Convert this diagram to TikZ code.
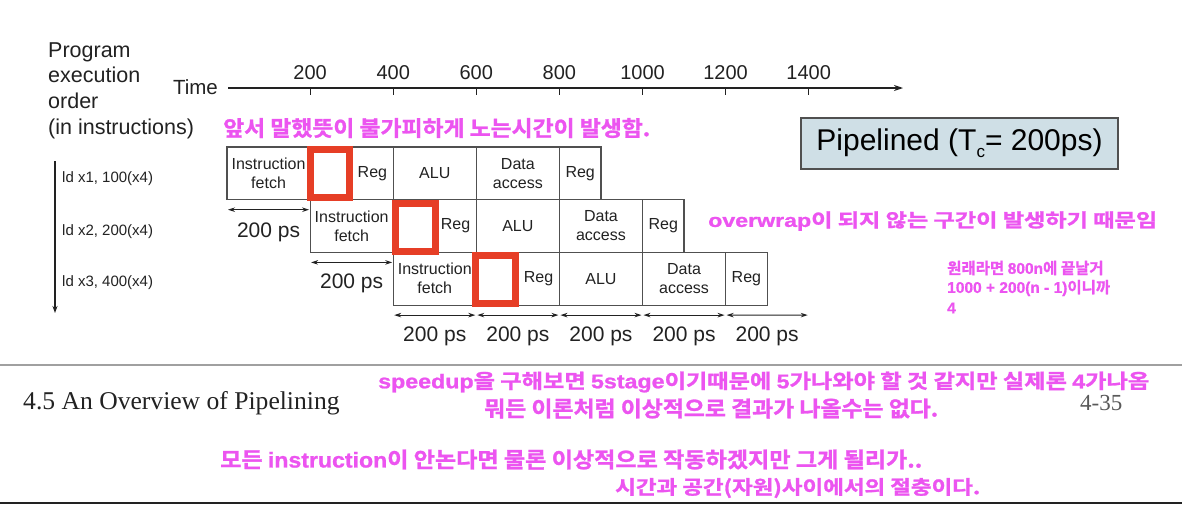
\documentclass[tikz,border=0pt]{standalone}
\usepackage{fontspec}
\usepackage{graphicx}
\setmainfont{Liberation Sans}
\newfontfamily\serfont{Liberation Serif}
\newfontfamily\korfont{Noto Sans CJK KR Bold}[FakeBold=1.2]
\newfontfamily\latb{Liberation Sans Bold}[FakeBold=1.0]
\usetikzlibrary{arrows.meta}
\definecolor{mag}{RGB}{236,84,240}
\definecolor{redb}{RGB}{230,62,38}
\definecolor{boxfill}{RGB}{207,223,230}
\definecolor{ink}{RGB}{34,34,34}
\definecolor{edge}{RGB}{80,80,80}
\definecolor{hrule}{RGB}{160,160,160}
\newcommand\hl[1]{{\latb #1}}
\tikzset{
  stage/.style={draw=edge, line width=1.2pt, fill=white, inner sep=0pt, outer sep=0pt,
    minimum height=52.7pt, anchor=north west, font=\fontsize{16}{19}\selectfont,
    text=ink, align=center},
  lbl/.style={inner sep=0pt, font=\fontsize{16}{19}\selectfont, text=ink},
  redbox/.style={draw=redb, line width=7pt, inner sep=0pt},
  dim/.style={draw=ink, line width=1.1pt,
    {Stealth[length=7pt,width=4.5pt]}-{Stealth[length=7pt,width=4.5pt]},
    shorten <=1pt, shorten >=1pt},
  pslab/.style={anchor=base, inner sep=0pt, font=\fontsize{21}{24}\selectfont, text=ink},
  axlab/.style={anchor=base, inner sep=0pt, font=\fontsize{20}{24}\selectfont, text=ink},
  lefttxt/.style={anchor=base west, inner sep=0pt, font=\fontsize{21.5}{25}\selectfont, text=ink},
  instr/.style={anchor=base west, inner sep=0pt, font=\fontsize{15}{18}\selectfont, text=ink},
  mtext/.style={anchor=west, inner sep=0pt, text=mag, font=\korfont},
  msmall/.style={anchor=west, inner sep=0pt, text=mag, font=\korfont\fontsize{15.5}{18}\selectfont},
}
\begin{document}
\begin{tikzpicture}[x=1pt, y=-1pt]
\useasboundingbox (0,0) rectangle (1182,512);
\fill[white] (0,0) rectangle (1182,512);

% left labels
\node[lefttxt] (lp1) at (48,57.3) {Program};
\node[lefttxt] (lp2) at (48,82.5) {execution};
\node[lefttxt] (lp3) at (48,108.4) {order};
\node[lefttxt] (lp4) at (48,134.4) {(in instructions)};
\node[anchor=base east, inner sep=0pt, font=\fontsize{20.5}{24}\selectfont, text=ink] (time) at (218,94.3) {Time};

% time axis
\coordinate (ax0) at (228,88);
\coordinate (ax1) at (903,88);
\draw[draw=ink, line width=1.2pt, -{Stealth[length=9pt,width=6pt]}] (ax0) -- (ax1);
\foreach \k/\lab in {1/200,2/400,3/600,4/800,5/1000,6/1200,7/1400}{
  \coordinate (tk\k) at ({227+83.1*\k},88);
  \draw[draw=ink, line width=1.2pt] (tk\k) -- ++(0,7);
  \node[axlab] (tl\k) at ({227+83.1*\k},79) {\lab};
}

% program order arrow
\coordinate (v0) at (55,161);
\coordinate (v1) at (55,313);
\draw[draw=ink, line width=1.1pt, -{Stealth[length=7pt,width=5pt]}] (v0) -- (v1);
\node[instr] (i1) at (62,182.5) {ld x1, 100(x4)};
\node[instr] (i2) at (62,235.5) {ld x2, 200(x4)};
\node[instr] (i3) at (62,286.5) {ld x3, 400(x4)};

% row 1
\node[stage, minimum width=83.1pt] (r1if) at (227,147) {Instruction\\fetch};
\node[stage, minimum width=83.1pt] (r1rd) at (310.1,147) {};
\node[stage, minimum width=83.1pt] (r1alu) at (393.2,147) {ALU};
\node[stage, minimum width=83.1pt] (r1da) at (476.3,147) {Data\\access};
\node[stage, minimum width=41.55pt] (r1wb) at (559.4,147) {Reg};
% row 2
\node[stage, minimum width=83.1pt] (r2if) at (310.1,199.7) {Instruction\\fetch};
\node[stage, minimum width=83.1pt] (r2rd) at (393.2,199.7) {};
\node[stage, minimum width=83.1pt] (r2alu) at (476.3,199.7) {ALU};
\node[stage, minimum width=83.1pt] (r2da) at (559.4,199.7) {Data\\access};
\node[stage, minimum width=41.55pt] (r2wb) at (642.5,199.7) {Reg};
% row 3
\node[stage, minimum width=83.1pt] (r3if) at (393.2,252.4) {Instruction\\fetch};
\node[stage, minimum width=83.1pt] (r3rd) at (476.3,252.4) {};
\node[stage, minimum width=83.1pt] (r3alu) at (559.4,252.4) {ALU};
\node[stage, minimum width=83.1pt] (r3da) at (642.5,252.4) {Data\\access};
\node[stage, minimum width=41.55pt] (r3wb) at (725.6,252.4) {Reg};

\node[lbl] (r1rg) at ([xshift=-20.8pt]r1rd.east) {Reg};
\node[lbl] (r2rg) at ([xshift=-20.8pt]r2rd.east) {Reg};
\node[lbl] (r3rg) at ([xshift=-20.8pt]r3rd.east) {Reg};

% red highlight boxes
\node[redbox, minimum width=39pt, minimum height=48pt] (h1) at (330,173.5) {};
\node[redbox, minimum width=40pt, minimum height=48pt] (h2) at (415.5,227.5) {};
\node[redbox, minimum width=40pt, minimum height=48pt] (h3) at (495.5,279.5) {};

% 200 ps dimension arrows
\draw[dim] ([yshift=-10pt]r1if.south west) -- ([yshift=-10pt]r1if.south east);
\node[pslab] (ps1) at ([yshift=-37.6pt]r1if.south) {200 ps};
\draw[dim] ([yshift=-10pt]r2if.south west) -- ([yshift=-10pt]r2if.south east);
\node[pslab] (ps2) at ([yshift=-36pt]r2if.south) {200 ps};
\draw[dim] ([yshift=-10pt]r3if.south west) -- ([yshift=-10pt]r3if.south east);
\draw[dim] ([yshift=-10pt]r3rd.south west) -- ([yshift=-10pt]r3rd.south east);
\draw[dim] ([yshift=-10pt]r3alu.south west) -- ([yshift=-10pt]r3alu.south east);
\draw[dim] ([yshift=-10pt]r3da.south west) -- ([yshift=-10pt]r3da.south east);
\coordinate (d3end) at (808.7,315.1);
\draw[dim] ([yshift=-10pt]r3wb.south west) -- (d3end);
\node[pslab] (ps3) at ([yshift=-36.5pt]r3if.south) {200 ps};
\node[pslab] (ps4) at ([yshift=-36.5pt]r3rd.south) {200 ps};
\node[pslab] (ps5) at ([yshift=-36.5pt]r3alu.south) {200 ps};
\node[pslab] (ps6) at ([yshift=-36.5pt]r3da.south) {200 ps};
\node[pslab] (ps7) at (767.15,341.6) {200 ps};

% pipelined box
\node[draw=edge, line width=1.3pt, fill=boxfill, inner sep=0pt, minimum width=317pt,
  minimum height=51pt, font=\fontsize{30}{34}\selectfont, text=black] (pip) at (959.5,143.5)
  {Pipelined (T\raisebox{-7pt}{\fontsize{17}{17}\selectfont c}= 200ps)};

% magenta annotations
\node[mtext] (m1) at (223,128) {\resizebox*{427pt}{20pt}{앞서 말했뜻이 불가피하게 노는시간이 발생함.}};
\node[mtext] (m2) at (708,221) {\resizebox*{449pt}{19.5pt}{\hl{overwrap}이 되지 않는 구간이 발생하기 때문임}};
\node[msmall] (m3a) at (947,268) {원래라면 \hl{800n}에 끝날거};
\node[msmall] (m3b) at (947,288) {\hl{1000 + 200(n - 1)}이니까};
\node[msmall] (m3c) at (947,308) {\hl{4}};

% rules
\coordinate (hr0) at (0,365);
\coordinate (hr1) at (1182,365);
\draw[draw=hrule, line width=2.5pt] (hr0) -- (hr1);
\coordinate (br0) at (0,503);
\coordinate (br1) at (1182,503);
\draw[draw=ink, line width=1.5pt] (br0) -- (br1);

\node[anchor=base west, inner sep=0pt, font=\serfont\fontsize{25.6}{30}\selectfont, text=ink] (sec) at (23,409.5) {4.5 An Overview of Pipelining};
\node[anchor=base west, inner sep=0pt, font=\serfont\fontsize{23}{27}\selectfont, text=black!65] (pg) at (1080,410) {4-35};

\node[mtext] (m4) at (378,382) {\resizebox*{771pt}{21pt}{\hl{speedup}을 구해보면 \hl{5stage}이기때문에 \hl{5}가나와야 할 것 같지만 실제론 \hl{4}가나옴}};
\node[mtext] (m5) at (484,408.5) {\resizebox*{454pt}{20pt}{뭐든 이론처럼 이상적으로 결과가 나올수는 없다.}};
\node[mtext] (m6) at (220,459.5) {\resizebox*{702pt}{20pt}{모든 \hl{instruction}이 안논다면 물론 이상적으로 작동하겠지만 그게 될리가..}};
\node[mtext] (m7) at (615,488) {\resizebox*{365pt}{20pt}{시간과 공간(자원)사이에서의 절충이다.}};
\end{tikzpicture}
\end{document}
